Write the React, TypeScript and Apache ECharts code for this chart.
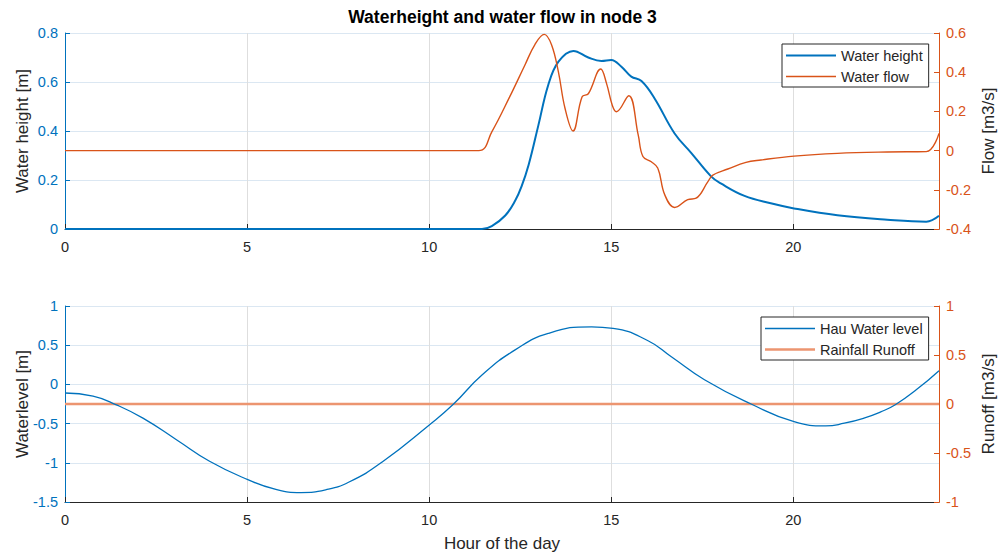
import React, { useEffect, useRef } from "react";
import * as echarts from "echarts";

// ---- Top panel data ----
const heightHours = [0, 11.45, 11.72, 12.09, 12.36, 12.54, 12.73, 13.0, 13.27, 13.55, 13.96, 14.37, 14.73, 15.0, 15.28, 15.55, 15.83, 16.19, 16.74, 17.2, 17.74, 18.02, 18.66, 19.38, 20.02, 21.21, 22.58, 23.65, 24];
const heightValues = [0, 0, 0.012, 0.055, 0.115, 0.175, 0.261, 0.424, 0.588, 0.683, 0.727, 0.7, 0.686, 0.69, 0.662, 0.622, 0.604, 0.533, 0.39, 0.31, 0.215, 0.185, 0.135, 0.105, 0.084, 0.056, 0.038, 0.03, 0.054];

const flowHours = [0, 11.36, 11.72, 12.2, 12.63, 12.9, 13.16, 13.36, 13.55, 13.73, 13.95, 14.2, 14.37, 14.71, 14.87, 15.03, 15.14, 15.48, 15.74, 15.87, 16.1, 16.28, 16.47, 16.74, 17.1, 17.33, 17.65, 17.79, 18.2, 18.7, 19.11, 20.02, 21.21, 22.58, 23.65, 24];
const flowValues = [0, 0, 0.096, 0.27, 0.437, 0.54, 0.593, 0.54, 0.4, 0.216, 0.1, 0.275, 0.29, 0.416, 0.343, 0.23, 0.198, 0.28, 0.08, -0.03, -0.057, -0.09, -0.226, -0.29, -0.25, -0.243, -0.16, -0.125, -0.094, -0.06, -0.048, -0.028, -0.014, -0.007, -0.005, 0.088];

// ---- Bottom panel data ----
const levelHours = [0, 0.77, 1.41, 2.14, 3.06, 3.97, 5.02, 5.79, 6.48, 7.16, 7.8, 8.71, 10.02, 10.67, 11.45, 12.36, 13.27, 14.46, 15.05, 16.01, 16.65, 17.56, 18.84, 20.02, 20.89, 21.4, 21.94, 22.4, 22.8, 23.4, 24];
const levelValues = [-0.11, -0.15, -0.26, -0.43, -0.705, -0.98, -1.215, -1.34, -1.38, -1.345, -1.245, -0.99, -0.51, -0.25, 0.12, 0.44, 0.65, 0.735, 0.715, 0.557, 0.353, 0.06, -0.25, -0.475, -0.53, -0.495, -0.43, -0.35, -0.26, -0.06, 0.175];

const runoffHours = [0, 6, 12, 18, 24];
const runoffValues = [0, 0, 0, 0, 0];

const pairs = (xs: number[], ys: number[]) => xs.map((x, i) => [x, ys[i]]);

const BLUE = "#0072BD";
const ORANGE = "#D95319";
const RUNOFF = "#ec9570";
const DARK = "#262626";
const FONT = "'Liberation Sans', Arial, Helvetica, sans-serif";
const TICK_FS = 14.5;
const NAME_FS = 17;

function xAxisCfg(gridIndex: number, name?: string) {
  return {
    gridIndex,
    type: "value",
    min: 0,
    max: 24,
    interval: 5,
    name: name || "",
    nameLocation: "middle",
    nameGap: 33,
    nameTextStyle: { color: DARK, fontSize: NAME_FS, fontFamily: FONT },
    axisLine: { show: true, onZero: false, lineStyle: { color: DARK, width: 1 } },
    axisTick: { show: true, inside: true, length: 5, lineStyle: { color: DARK } },
    axisLabel: { color: DARK, fontSize: TICK_FS, margin: 10, fontFamily: FONT, showMaxLabel: false },
    splitLine: { show: true, lineStyle: { color: "#dedede", width: 1 } },
  };
}

function yAxisCfg(
  gridIndex: number,
  position: "left" | "right",
  min: number,
  max: number,
  interval: number,
  name: string,
  color: string,
  split: boolean,
  nameGap: number
) {
  return {
    gridIndex,
    type: "value",
    position,
    min,
    max,
    interval,
    name,
    nameLocation: "middle",
    nameRotate: 90,
    nameGap,
    nameMoveOverlap: false,
    nameTextStyle: { color: DARK, fontSize: NAME_FS, fontFamily: FONT },
    axisLine: { show: true, onZero: false, lineStyle: { color, width: 1 } },
    axisTick: { show: true, inside: true, length: 5, lineStyle: { color } },
    axisLabel: { color, fontSize: TICK_FS, margin: 7, fontFamily: FONT },
    splitLine: { show: split, lineStyle: { color: "#dbe7f2", width: 1 } },
  };
}

const legendBase = {
  orient: "vertical",
  borderColor: DARK,
  borderWidth: 1,
  backgroundColor: "#ffffff",
  padding: [4, 6, 3, 4],
  itemWidth: 50,
  itemHeight: 14,
  itemGap: 6,
  symbolKeepAspect: true,
  textStyle: { color: DARK, fontSize: 14.5, fontFamily: FONT },
};

const lineIcon = (w: number) => `path://M0,0H50V${w}H0Z`;

export default function App() {
  const ref = useRef<HTMLDivElement>(null);
  useEffect(() => {
    if (!ref.current) return;
    const chart = echarts.init(ref.current, null, { renderer: "svg" });
    const option: any = {
      animation: false,
      backgroundColor: "#ffffff",
      textStyle: { fontFamily: FONT },
      title: {
        text: "Waterheight and water flow in node 3",
        left: "center",
        top: 3,
        textStyle: { color: "#000", fontSize: 17.5, fontWeight: "bold", fontFamily: FONT },
      },
      legend: [
        {
          ...legendBase,
          left: 782,
          top: 44,
          data: [
            { name: "Water height", icon: lineIcon(2) },
            { name: "Water flow", icon: lineIcon(1.4) },
          ],
        },
        {
          ...legendBase,
          left: 761,
          top: 317,
          data: [
            { name: "Hau Water level", icon: lineIcon(1.3) },
            { name: "Rainfall Runoff", icon: lineIcon(2.5) },
          ],
        },
      ],
      grid: [
        { left: 65, right: 63, top: 33, height: 196 },
        { left: 65, right: 63, top: 306, height: 196 },
      ],
      xAxis: [xAxisCfg(0), xAxisCfg(1, "Hour of the day")],
      yAxis: [
        yAxisCfg(0, "left", 0, 0.8, 0.2, "Water height [m]", BLUE, true, 34),
        yAxisCfg(0, "right", -0.4, 0.6, 0.2, "Flow [m3/s]", ORANGE, false, 41),
        yAxisCfg(1, "left", -1.5, 1, 0.5, "Waterlevel [m]", BLUE, true, 34),
        yAxisCfg(1, "right", -1, 1, 0.5, "Runoff [m3/s]", ORANGE, false, 41),
      ],
      series: [
        {
          name: "Water height",
          type: "line",
          xAxisIndex: 0,
          yAxisIndex: 0,
          data: pairs(heightHours, heightValues),
          symbol: "none",
          smooth: 0.4,
          lineStyle: { color: BLUE, width: 2 },
          itemStyle: { color: BLUE },
        },
        {
          name: "Water flow",
          type: "line",
          xAxisIndex: 0,
          yAxisIndex: 1,
          data: pairs(flowHours, flowValues),
          symbol: "none",
          smooth: 0.4,
          lineStyle: { color: ORANGE, width: 1.4 },
          itemStyle: { color: ORANGE },
        },
        {
          name: "Rainfall Runoff",
          type: "line",
          xAxisIndex: 1,
          yAxisIndex: 3,
          data: pairs(runoffHours, runoffValues),
          symbol: "none",
          lineStyle: { color: RUNOFF, width: 2.5 },
          itemStyle: { color: RUNOFF },
        },
        {
          name: "Hau Water level",
          type: "line",
          xAxisIndex: 1,
          yAxisIndex: 2,
          data: pairs(levelHours, levelValues),
          symbol: "none",
          smooth: 0.5,
          lineStyle: { color: BLUE, width: 1.3 },
          itemStyle: { color: BLUE },
        },
      ],
    };
    chart.setOption(option);
    return () => chart.dispose();
  }, []);
  return (
    <div
      ref={ref}
      style={{ position: "fixed", left: 0, top: 0, width: 1005, height: 555, background: "#fff" }}
    />
  );
}
